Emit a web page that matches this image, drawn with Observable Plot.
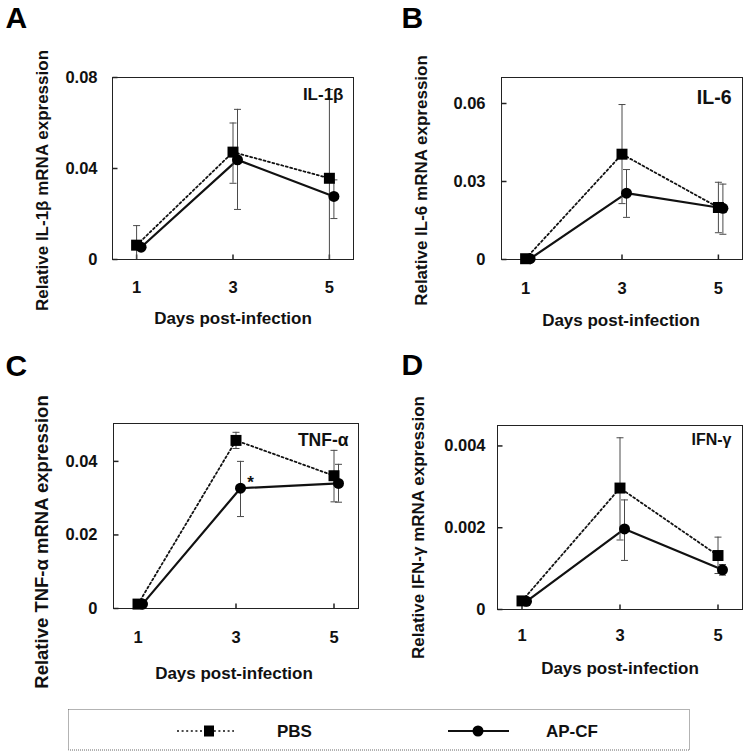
<!DOCTYPE html>
<html><head><meta charset="utf-8">
<script src="https://cdn.jsdelivr.net/npm/d3@7"></script>
<script src="https://cdn.jsdelivr.net/npm/@observablehq/plot@0.6"></script>
<style>
body{margin:0;background:#fff;}
#root{position:relative;width:747px;height:755px;background:#fff;overflow:hidden;}
.panel{position:absolute;}
#legend{position:absolute;left:0;top:690px;}
</style></head><body><div id="root"></div>
<script>
// ---------- data ----------
const days = [1, 3, 5];
const xTickLabels = ["1", "3", "5"];
const groups = ["PBS", "AP-CF"];
const xLabel = "Days post-infection";

// A: IL-1β
const pbsA = [0.0063, 0.0472, 0.0357];
const pbsA_lo = [0, 0.0335, 0];
const pbsA_hi = [0.0149, 0.0600, 0.0747];
const apA = [0.0054, 0.0438, 0.0277];
const apA_lo = [0.0045, 0.0220, 0.0180];
const apA_hi = [0.0063, 0.0660, 0.0350];
const yTicksA = [0, 0.04, 0.08];
const yTickLabelsA = ["0", "0.04", "0.08"];

// B: IL-6
const pbsB = [0.0003, 0.0405, 0.0200];
const pbsB_lo = [0.0003, 0.0215, 0.0103];
const pbsB_hi = [0.0003, 0.0596, 0.0297];
const apB = [0.0003, 0.0255, 0.0197];
const apB_lo = [0.0003, 0.0162, 0.0097];
const apB_hi = [0.0003, 0.0346, 0.0290];
const yTicksB = [0, 0.03, 0.06];
const yTickLabelsB = ["0", "0.03", "0.06"];

// C: TNF-α
const pbsC = [0.0012, 0.0457, 0.0361];
const pbsC_lo = [0.0010, 0.0435, 0.0290];
const pbsC_hi = [0.0014, 0.0479, 0.0430];
const apC = [0.0012, 0.0327, 0.0340];
const apC_lo = [0.0010, 0.0250, 0.0289];
const apC_hi = [0.0014, 0.0400, 0.0392];
const yTicksC = [0, 0.02, 0.04];
const yTickLabelsC = ["0", "0.02", "0.04"];
const sigC = [{day: 3, label: "*"}];

// D: IFN-γ
const pbsD = [0.00021, 0.00297, 0.00132];
const pbsD_lo = [0.00012, 0.00170, 0.00088];
const pbsD_hi = [0.00030, 0.00420, 0.00177];
const apD = [0.00020, 0.00197, 0.00097];
const apD_lo = [0.00012, 0.00120, 0.00084];
const apD_hi = [0.00028, 0.00268, 0.00110];
const yTicksD = [0, 0.002, 0.004];
const yTickLabelsD = ["0", "0.002", "0.004"];

// ---------- panels ----------
const FONT = '"Liberation Sans", Arial, sans-serif';
const panels = [
  {letter: "A", gene: "IL-1β", ylabel: "Relative IL-1β mRNA expression",
   pbs: pbsA, pbsLo: pbsA_lo, pbsHi: pbsA_hi, ap: apA, apLo: apA_lo, apHi: apA_hi,
   yMax: 0.08, yTicks: yTicksA, yTickLabels: yTickLabelsA,
   lay: {left: 0, top: 0, w: 373, h: 340, mL: 112, mT: 77, mR: 20, mB: 81, xPad: 22, yPad: 15,
         ylDx: -70, ylDy: 12, ylFs: 17, xlDx: 0, xlDy: 59, leDx: -107, leDy: -59, gDx: -10, gDy: 17, gFs: 17}},
  {letter: "B", gene: "IL-6", ylabel: "Relative IL-6 mRNA expression",
   pbs: pbsB, pbsLo: pbsB_lo, pbsHi: pbsB_hi, ap: apB, apLo: apB_lo, apHi: apB_hi,
   yMax: 0.07, yTicks: yTicksB, yTickLabels: yTickLabelsB,
   lay: {left: 373, top: 0, w: 374, h: 340, mL: 128, mT: 77, mR: 5, mB: 81, xPad: 23, yPad: 16,
         ylDx: -80, ylDy: 12, ylFs: 17, xlDx: -1, xlDy: 61, leDx: -100, leDy: -59, gDx: -11, gDy: 20, gFs: 19.5}},
  {letter: "C", gene: "TNF-α", ylabel: "Relative TNF-α mRNA expression",
   pbs: pbsC, pbsLo: pbsC_lo, pbsHi: pbsC_hi, ap: apC, apLo: apC_lo, apHi: apC_hi,
   yMax: 0.0503, yTicks: yTicksC, yTickLabels: yTickLabelsC, sig: sigC,
   lay: {left: 0, top: 340, w: 373, h: 345, mL: 113, mT: 83, mR: 15, mB: 77, xPad: 23, yPad: 16,
         ylDx: -71, ylDy: 26, ylFs: 18.5, xlDx: -2, xlDy: 65, leDx: -108, leDy: -57, gDx: -10, gDy: 17, gFs: 17.5}},
  {letter: "D", gene: "IFN-γ", ylabel: "Relative IFN-γ mRNA expression",
   pbs: pbsD, pbsLo: pbsD_lo, pbsHi: pbsD_hi, ap: apD, apLo: apD_lo, apHi: apD_hi,
   yMax: 0.0045, yTicks: yTicksD, yTickLabels: yTickLabelsD,
   lay: {left: 373, top: 340, w: 374, h: 345, mL: 124, mT: 85, mR: 5, mB: 76, xPad: 20, yPad: 12,
         ylDx: -79, ylDy: 10, ylFs: 17, xlDx: 0, xlDy: 59, leDx: -96, leDy: -60, gDx: -11, gDy: 14, gFs: 16}}
];

const capSym = {draw(ctx) { ctx.moveTo(-3.5, 0); ctx.lineTo(3.5, 0); }};
const vTickSym = {draw(ctx) { ctx.moveTo(0, -2.5); ctx.lineTo(0, 2.5); }};
const hTickSym = {draw(ctx) { ctx.moveTo(-2.5, 0); ctx.lineTo(2.5, 0); }};
const AP_DX = 4.5;
const ERR = "#4a4a4a";

function rows(vals, lo, hi, g) {
  return days.map((d, i) => ({day: d, group: g, v: vals[i], lo: lo[i], hi: hi[i]}));
}

const root = document.getElementById("root");

for (const p of panels) {
  const L = p.lay;
  const pbsRows = rows(p.pbs, p.pbsLo, p.pbsHi, groups[0]);
  const apRows = rows(p.ap, p.apLo, p.apHi, groups[1]);
  const marks = [
    Plot.frame({stroke: "#222", strokeWidth: 1}),
    Plot.dot(days, {x: d => d, y: 0, symbol: vTickSym, stroke: "#222", fill: "none", dy: -2.5}),
    Plot.dot(p.yTicks, {x: 0.5, y: d => d, symbol: hTickSym, stroke: "#222", fill: "none", dx: 2.5}),
    Plot.axisX({ticks: days, tickFormat: d => xTickLabels[days.indexOf(d)], tickSize: 0, tickPadding: L.xPad,
                fontSize: 16.5, fontWeight: "bold", label: null}),
    Plot.axisY({ticks: p.yTicks, tickFormat: d => p.yTickLabels[p.yTicks.indexOf(d)], tickSize: 0, tickPadding: L.yPad,
                fontSize: 16.5, fontWeight: "bold", label: null}),
    // lines
    Plot.line(pbsRows, {x: "day", y: "v", stroke: "#111", strokeWidth: 1.8, strokeDasharray: "2,2.6"}),
    Plot.line(apRows, {x: "day", y: "v", stroke: "#111", strokeWidth: 2.2, dx: AP_DX}),
    // error bars
    Plot.ruleX(pbsRows, {x: "day", y1: "lo", y2: "hi", stroke: ERR, strokeWidth: 1}),
    Plot.dot(pbsRows, {x: "day", y: "hi", symbol: capSym, stroke: ERR, fill: "none", strokeWidth: 1}),
    Plot.dot(pbsRows.filter(d => d.lo > 0), {x: "day", y: "lo", symbol: capSym, stroke: ERR, fill: "none", strokeWidth: 1}),
    Plot.ruleX(apRows, {x: "day", y1: "lo", y2: "hi", stroke: ERR, strokeWidth: 1, dx: AP_DX}),
    Plot.dot(apRows, {x: "day", y: "hi", symbol: capSym, stroke: ERR, fill: "none", strokeWidth: 1, dx: AP_DX}),
    Plot.dot(apRows, {x: "day", y: "lo", symbol: capSym, stroke: ERR, fill: "none", strokeWidth: 1, dx: AP_DX}),
    // markers
    Plot.dot(pbsRows, {x: "day", y: "v", symbol: "square", r: 6.2, fill: "#000", stroke: "none"}),
    Plot.dot(apRows, {x: "day", y: "v", symbol: "circle", r: 5.5, fill: "#000", stroke: "none", dx: AP_DX}),
    // texts
    Plot.text([p.ylabel], {text: d => d, frameAnchor: "left", rotate: -90, dx: L.ylDx, dy: L.ylDy,
               textAnchor: "middle", lineAnchor: "middle", fontSize: L.ylFs, fontWeight: "bold", fill: "#111"}),
    Plot.text([xLabel], {text: d => d, frameAnchor: "bottom", dx: L.xlDx, dy: L.xlDy,
               textAnchor: "middle", lineAnchor: "middle", fontSize: 17, fontWeight: "bold", fill: "#111"}),
    Plot.text([p.letter], {text: d => d, frameAnchor: "top-left", dx: L.leDx, dy: L.leDy,
               textAnchor: "start", lineAnchor: "middle", fontSize: 30, fontWeight: "bold", fill: "#000"}),
    Plot.text([p.gene], {text: d => d, frameAnchor: "top-right", dx: L.gDx, dy: L.gDy,
               textAnchor: "end", lineAnchor: "middle", fontSize: L.gFs, fontWeight: "bold", fill: "#111"})
  ];
  if (p.sig) {
    marks.push(Plot.text(p.sig, {x: "day", y: d => p.ap[days.indexOf(d.day)], text: "label",
      dx: AP_DX + 10, dy: -6, fontSize: 17, fontWeight: "bold", fill: "#111"}));
  }
  const chart = Plot.plot({
    width: L.w, height: L.h,
    marginLeft: L.mL, marginTop: L.mT, marginRight: L.mR, marginBottom: L.mB,
    x: {domain: [0.5, 5.5]},
    y: {domain: [0, p.yMax]},
    style: {fontFamily: FONT, fontWeight: "bold", fontSize: "16px", color: "#111", background: "transparent", overflow: "visible"},
    marks
  });
  const div = document.createElement("div");
  div.className = "panel";
  div.style.left = L.left + "px";
  div.style.top = L.top + "px";
  div.appendChild(chart);
  root.appendChild(div);
}

// ---------- legend ----------
const legendItems = [
  {label: groups[0], lineX1: 177, lineX2: 234, markX: 209, textX: 277, dash: "2,2.6", sw: 1.6, sym: "square"},
  {label: groups[1], lineX1: 448, lineX2: 509, markX: 478, textX: 546, dash: null, sw: 2.2, sym: "circle"}
];
const NS = "http://www.w3.org/2000/svg";
const lg = document.createElementNS(NS, "svg");
lg.setAttribute("id", "legend");
lg.setAttribute("width", 747);
lg.setAttribute("height", 65);
lg.style.fontFamily = FONT;
function el(name, attrs, parent) {
  const e = document.createElementNS(NS, name);
  for (const k in attrs) e.setAttribute(k, attrs[k]);
  parent.appendChild(e);
  return e;
}
el("rect", {x: 68.5, y: 19.5, width: 621, height: 40.5, fill: "none", stroke: "#666", "stroke-width": 1, "stroke-dasharray": "1,1"}, lg);
const cy = 41;
for (const it of legendItems) {
  const ln = el("line", {x1: it.lineX1, x2: it.lineX2, y1: cy, y2: cy, stroke: "#111", "stroke-width": it.sw}, lg);
  if (it.dash) ln.setAttribute("stroke-dasharray", it.dash);
  if (it.sym === "square") el("rect", {x: it.markX - 5, y: cy - 5.5, width: 10, height: 11, fill: "#000"}, lg);
  else el("circle", {cx: it.markX, cy: cy, r: 5.5, fill: "#000"}, lg);
  const t = el("text", {x: it.textX, y: cy, "dominant-baseline": "central", "font-size": 17, "font-weight": "bold", fill: "#111"}, lg);
  t.textContent = it.label;
}
root.appendChild(lg);
</script>
</body></html>
